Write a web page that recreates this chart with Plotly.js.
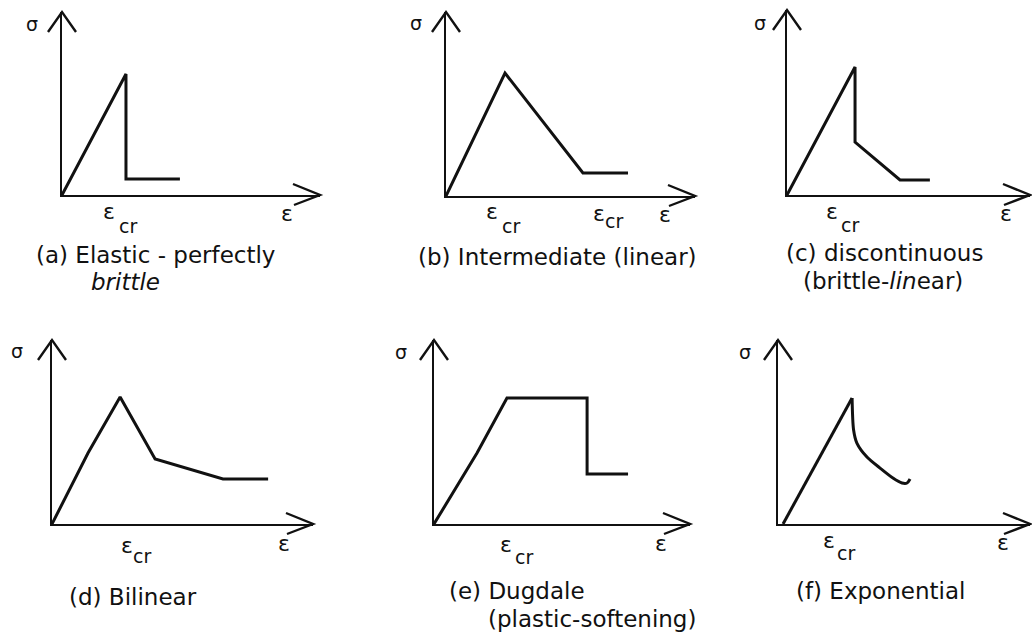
<!DOCTYPE html>
<html>
<head>
<meta charset="utf-8">
<script src="https://cdn.plot.ly/plotly-3.0.1.min.js"></script>
<style>
  html, body { margin: 0; padding: 0; background: #fff; }
  #chart { width: 1032px; height: 636px; }
</style>
</head>
<body>
<div id="chart"></div>
<script>
// Stress–strain softening laws, strain (ε) and stress (σ) in relative units 0–10 per panel.

// (a) Elastic - perfectly brittle
const strainA = [0, 2.48, 2.48, 4.57];
const stressA = [0, 6.61, 0.87, 0.87];

// (b) Intermediate (linear)
const strainB = [0, 2.37, 5.50, 7.31];
const stressB = [0, 6.68, 1.25, 1.25];

// (c) discontinuous (brittle-linear)
const strainC = [0, 2.80, 2.80, 4.65, 5.88];
const stressC = [0, 6.92, 2.86, 0.81, 0.81];

// (d) Bilinear
const strainD = [0, 1.38, 2.61, 3.95, 6.55, 8.28];
const stressD = [0, 3.86, 6.90, 3.53, 2.45, 2.45];

// (e) Dugdale (plastic-softening)
const strainE = [0, 1.68, 2.85, 5.98, 5.98, 7.58];
const stressE = [0, 3.86, 6.85, 6.85, 2.72, 2.72];

// (f) Exponential: linear rise, then curved decay
const strainF_rise = [0.20, 2.94];
const stressF_rise = [0, 6.85];
const strainF_decay = [2.94, 3.00, 3.13, 3.53, 4.05, 4.56, 4.92, 5.12, 5.24];
const stressF_decay = [6.85, 5.11, 4.40, 3.64, 3.04, 2.50, 2.23, 2.23, 2.45];

// Panel captions
const captionA = ['(a) Elastic - perfectly', '<i>brittle</i>'];
const captionB = ['(b) Intermediate (linear)'];
const captionC = ['(c) discontinuous', '(brittle-<i>lin</i>ear)'];
const captionD = ['(d) Bilinear'];
const captionE = ['(e) Dugdale', '(plastic-softening)'];
const captionF = ['(f) Exponential'];

const W = 1032, H = 636;
const px = v => v / W;
const py = v => 1 - v / H;
const INK = '#111111';
const FONT = 'DejaVu Sans, Liberation Sans, Arial, sans-serif';

// Geometry of each panel: origin (ox, oy), arrow tips (tx, ty), label spots
const panels = [
  { ox: 62,  oy: 195, tx: 320,  ty: 12,  sig: [32, 24],  eps: [287, 213],
    crit: [[109, 212, 128, 226]], cap: captionA, capPos: [[35, 255], [90, 282]] },
  { ox: 446, oy: 196, tx: 695,  ty: 12,  sig: [416, 23], eps: [665, 214],
    crit: [[492, 212, 511, 226], [599, 213, 614, 221]], cap: captionB, capPos: [[417, 257]] },
  { ox: 787, oy: 195, tx: 1030, ty: 10,  sig: [760, 23], eps: [1006, 213],
    crit: [[832, 212, 850, 225]], cap: captionC, capPos: [[785, 253], [802, 281]] },
  { ox: 52,  oy: 524, tx: 313,  ty: 340, sig: [17, 351], eps: [284, 543],
    crit: [[127, 545, 142, 556]], cap: captionD, capPos: [[68, 597]] },
  { ox: 434, oy: 524, tx: 690,  ty: 340, sig: [401, 352], eps: [661, 543],
    crit: [[506, 544, 524, 557]], cap: captionE, capPos: [[448, 591], [487, 619]] },
  { ox: 778, oy: 524, tx: 1030, ty: 340, sig: [745, 352], eps: [1003, 542],
    crit: [[829, 540, 846, 553]], cap: captionF, capPos: [[795, 591]] }
];

const series = [
  [[strainA, stressA, 'linear']],
  [[strainB, stressB, 'linear']],
  [[strainC, stressC, 'linear']],
  [[strainD, stressD, 'linear']],
  [[strainE, stressE, 'linear']],
  [[strainF_rise, stressF_rise, 'linear'], [strainF_decay, stressF_decay, 'spline']]
];

const traces = [];
const layout = {
  width: W, height: H,
  margin: { l: 0, r: 0, t: 0, b: 0 },
  paper_bgcolor: '#fff', plot_bgcolor: 'rgba(0,0,0,0)',
  showlegend: false,
  annotations: [],
  shapes: []
};

function text(t, x, y, size, anchor) {
  layout.annotations.push({
    text: t, xref: 'paper', yref: 'paper', x: px(x), y: py(y),
    xanchor: anchor || 'center', yanchor: 'middle', showarrow: false,
    borderpad: 0,
    font: { family: FONT, size: size, color: INK }
  });
}

panels.forEach((p, i) => {
  const n = i === 0 ? '' : String(i + 1);
  const axisStyle = {
    showline: true, linecolor: INK, linewidth: 2,
    showgrid: false, zeroline: false, showticklabels: false, ticks: '',
    range: [0, 10], fixedrange: true
  };
  layout['xaxis' + n] = Object.assign({}, axisStyle, {
    domain: [px(p.ox), px(p.tx)], anchor: 'y' + n
  });
  layout['yaxis' + n] = Object.assign({}, axisStyle, {
    domain: [py(p.oy), py(p.ty)], anchor: 'x' + n
  });

  series[i].forEach(([xs, ys, shape]) => {
    traces.push({
      type: 'scatter', mode: 'lines', x: xs, y: ys,
      xaxis: 'x' + n, yaxis: 'y' + n, cliponaxis: false,
      line: { color: INK, width: 3, shape: shape, smoothing: 0.8 },
      hoverinfo: 'skip'
    });
  });

  // open arrowheads at the end of each axis
  const chevron = (ax, ay, path) => layout.shapes.push({
    type: 'path', xref: 'paper', yref: 'paper',
    xsizemode: 'pixel', ysizemode: 'pixel', xanchor: px(ax), yanchor: py(ay),
    path: path, line: { color: INK, width: 2.4 }
  });
  chevron(p.tx, p.oy, 'M-27,11 L0,0 L-26,-10');
  chevron(p.ox, p.ty, 'M-14,-20 L0,0 L14,-20');

  text('σ', p.sig[0], p.sig[1], 19);
  text('ε', p.eps[0], p.eps[1], 22);
  p.crit.forEach(c => {
    text('ε', c[0], c[1], 22);
    text('cr', c[2], c[3], 19);
  });
  p.cap.forEach((line, k) => text(line, p.capPos[k][0], p.capPos[k][1], 23, 'left'));
});

Plotly.newPlot('chart', traces, layout, { displayModeBar: false, staticPlot: true });
</script>
</body>
</html>
